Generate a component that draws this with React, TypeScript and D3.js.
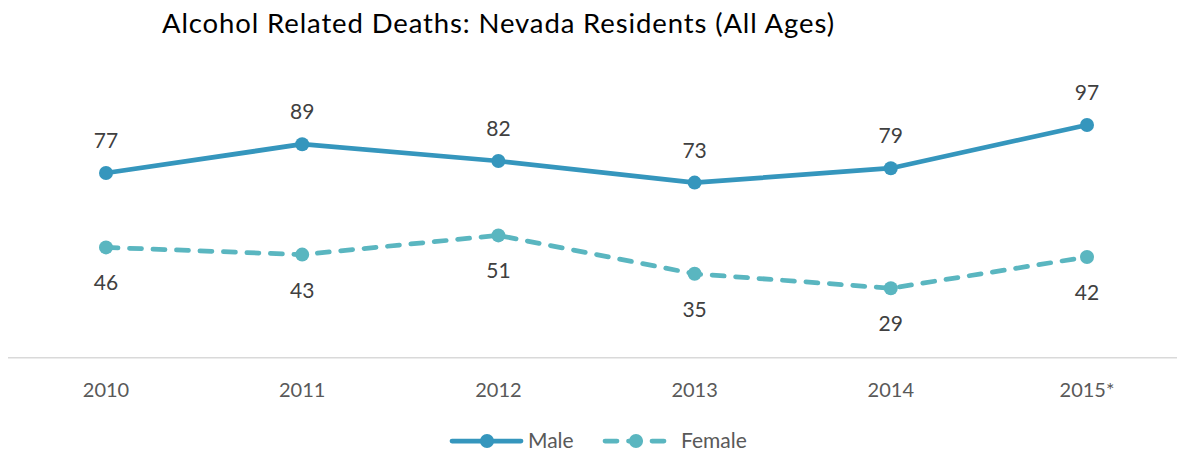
import React from "react";
import * as d3 from "d3";

const categories = ["2010", "2011", "2012", "2013", "2014", "2015*"];
const maleValues = [77, 89, 82, 73, 79, 97];
const femaleValues = [46, 43, 51, 35, 29, 42];
const seriesNames = ["Male", "Female"];
const title = "Alcohol Related Deaths: Nevada Residents (All Ages)";

const W = 1177;
const H = 453;
const FONT = "Lato, 'Open Sans', sans-serif";
const MALE_COLOR = "#3596BD";
const FEMALE_COLOR = "#5AB6C0";

export default function App() {
  const x = d3
    .scalePoint<string>()
    .domain(categories)
    .range([106, 1087]);
  const y = d3.scaleLinear().domain([0, 120]).range([357.8, 69.8]);

  const line = d3
    .line<number>()
    .x((_, i) => x(categories[i]) as number)
    .y((d) => y(d));

  return (
    <svg
      width={W}
      height={H}
      style={{ position: "absolute", left: 0, top: 0, background: "#fff" }}
    >
      <text
        x={162}
        y={33}
        fontFamily={FONT}
        fontSize={27.5}
        fill="#000"
        textLength={672}
        lengthAdjust="spacing"
      >
        {title}
      </text>
      <line x1={8} x2={1177} y1={y(0)} y2={y(0)} stroke="#d9d9d9" strokeWidth={1.5} />
      {categories.map((c) => (
        <text
          key={c}
          x={x(c)}
          y={397}
          textAnchor="middle"
          fontFamily={FONT}
          fontSize={20}
          fill="#595959"
        >
          {c}
        </text>
      ))}
      <path
        d={line(maleValues) || ""}
        fill="none"
        stroke={MALE_COLOR}
        strokeWidth={4.75}
        strokeLinejoin="round"
        strokeLinecap="round"
      />
      <path
        d={line(femaleValues) || ""}
        fill="none"
        stroke={FEMALE_COLOR}
        strokeWidth={4.75}
        strokeDasharray="12 11.5"
        strokeLinecap="round"
      />
      {maleValues.map((v, i) => (
        <g key={"m" + i}>
          <circle cx={x(categories[i])} cy={y(v)} r={7} fill={MALE_COLOR} />
          <text
            x={x(categories[i])}
            y={y(v) - 25}
            textAnchor="middle"
            fontFamily={FONT}
            fontSize={21}
            fill="#404040"
          >
            {v}
          </text>
        </g>
      ))}
      {femaleValues.map((v, i) => (
        <g key={"f" + i}>
          <circle cx={x(categories[i])} cy={y(v)} r={7} fill={FEMALE_COLOR} />
          <text
            x={x(categories[i])}
            y={y(v) + 43}
            textAnchor="middle"
            fontFamily={FONT}
            fontSize={21}
            fill="#404040"
          >
            {v}
          </text>
        </g>
      ))}
      {/* legend */}
      <g>
        <line x1={452} x2={521} y1={441} y2={441} stroke={MALE_COLOR} strokeWidth={4.75} strokeLinecap="round" />
        <circle cx={487} cy={441} r={7} fill={MALE_COLOR} />
        <text x={528} y={448} fontFamily={FONT} fontSize={21} fill="#595959">
          {seriesNames[0]}
        </text>
        <line x1={605} x2={668} y1={441} y2={441} stroke={FEMALE_COLOR} strokeWidth={4.75} strokeLinecap="round" strokeDasharray="12 11.5" />
        <circle cx={636} cy={441} r={7} fill={FEMALE_COLOR} />
        <text x={681} y={448} fontFamily={FONT} fontSize={21} fill="#595959">
          {seriesNames[1]}
        </text>
      </g>
    </svg>
  );
}
